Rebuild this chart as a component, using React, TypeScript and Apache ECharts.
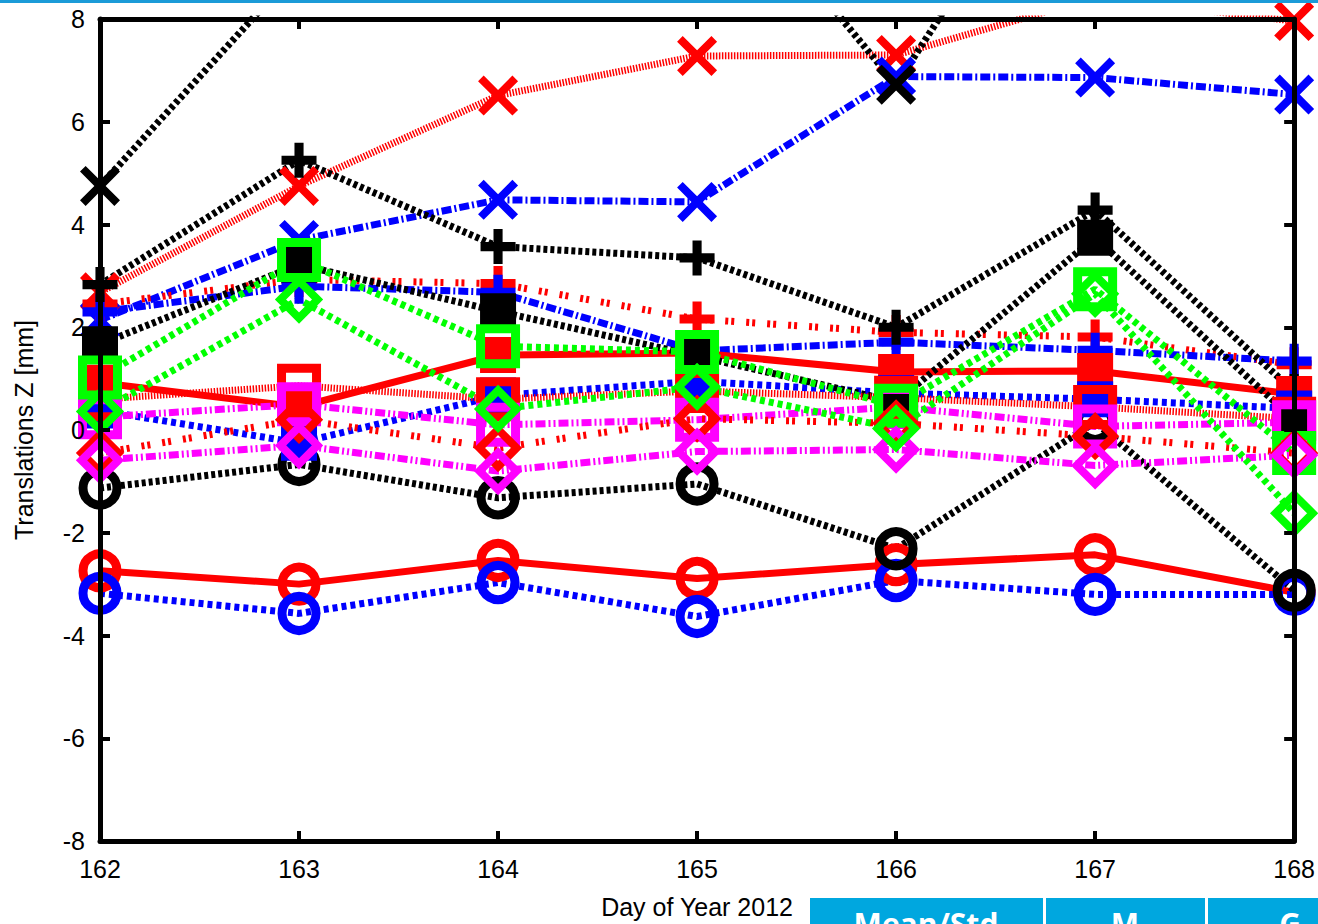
import React, { useEffect, useRef } from "react";
import * as echarts from "echarts";

const days = [162, 163, 164, 165, 166, 167, 168];
const xTicks = ["162", "163", "164", "165", "166", "167", "168"];
const yTicks = [-8, -6, -4, -2, 0, 2, 4, 6, 8];

// circles
const redCircle = [-2.74, -3.0, -2.54, -2.89, -2.62, -2.43, -3.16];
const blueCircle = [-3.18, -3.57, -2.97, -3.63, -2.93, -3.2, -3.2];
const blackCircle = [-1.13, -0.67, -1.32, -1.05, -2.31, 0.15, -3.12];
// crosses (x)
const redX = [2.68, 4.75, 6.51, 7.28, 7.3, 8.42, 7.96];
const blueX = [2.14, 3.7, 4.48, 4.44, 6.88, 6.86, 6.53];
const blackX = [4.75, 9.0, 10.5, 11.4, 6.72, 12.7, 10.5];
// plus (+)
const redPlus = [2.45, 2.93, 2.85, 2.16, 1.9, 1.81, 1.27];
const bluePlus = [2.3, 2.8, 2.68, 1.54, 1.71, 1.55, 1.34];
const blackPlus = [2.83, 5.25, 3.57, 3.35, 2.0, 4.28, 0.75];
// filled squares
const redFilled = [0.92, 0.45, 1.46, 1.5, 1.13, 1.15, 0.7];
const blueFilled = [0.38, -0.25, 0.67, 0.95, 0.72, 0.6, 0.42];
const blackFilled = [1.67, 3.22, 2.31, 1.44, 0.55, 3.74, 0.2];
// open squares
const redSquare = [0.6, 0.86, 0.6, 0.76, 0.63, 0.45, 0.22];
const magentaSquare = [0.25, 0.5, 0.1, 0.2, 0.45, 0.07, 0.15];
const greenSquare = [1.02, 3.31, 1.63, 1.52, 0.47, 2.74, -0.45];
// open diamonds
const redDiamond = [-0.45, 0.2, -0.35, 0.22, 0.13, -0.12, -0.45];
const magentaDiamond = [-0.59, -0.3, -0.8, -0.42, -0.38, -0.69, -0.49];
const greenDiamond = [0.36, 2.54, 0.41, 0.84, 0.03, 2.65, -1.62];

const headerCells = ["Mean/Std", "M", "G"];

const RED = "#ff0000";
const BLUE = "#0000ff";
const BLACK = "#000000";
const GREEN = "#00ff00";
const MAGENTA = "#ff00ff";

const PLUS = "path://M37,0 H63 V37 H100 V63 H63 V100 H37 V63 H0 V37 H37 Z";
const CROSS =
  "path://M0,14.1 L14.1,0 L50,35.9 L85.9,0 L100,14.1 L64.1,50 L100,85.9 L85.9,100 L50,64.1 L14.1,100 L0,85.9 L35.9,50 Z";

const SOLID: number[] | string = "solid";
const DOTTED = [4, 3];
const FINE = [1.5, 1.5];
const DASHED = [3, 3, 3, 12];
const DASHDOT = [10, 3, 2, 3];
const SQDOT = [5, 4];
const GREENDOT = [5, 4];
const MAGDASH = [10, 3, 2, 3, 2, 3];

type Kind = "circle" | "x" | "plus" | "filled" | "square" | "diamond";

function mk(name: string, vals: number[], color: string, kind: Kind, dash: any) {
  let symbol = "circle";
  let symbolSize = 34;
  let itemStyle: any = { color: "rgba(0,0,0,0)", borderColor: color, borderWidth: 9 };
  if (kind === "x") {
    symbol = CROSS;
    symbolSize = 40;
    itemStyle = { color, borderWidth: 0 };
  } else if (kind === "plus") {
    symbol = PLUS;
    symbolSize = 35;
    itemStyle = { color, borderWidth: 0 };
  } else if (kind === "filled") {
    symbol = "rect";
    symbolSize = 36;
    itemStyle = { color, borderWidth: 0 };
  } else if (kind === "square") {
    symbol = "rect";
    symbolSize = 35;
    itemStyle = { color: "rgba(0,0,0,0)", borderColor: color, borderWidth: 9 };
  } else if (kind === "diamond") {
    symbol = "diamond";
    symbolSize = 37;
    itemStyle = { color: "rgba(0,0,0,0)", borderColor: color, borderWidth: 8 };
  }
  return {
    name,
    type: "line",
    data: days.map((d, i) => [d, vals[i]]),
    symbol,
    symbolSize,
    showAllSymbol: true,
    clip: true,
    silent: true,
    itemStyle,
    lineStyle: { color, width: 7, type: dash, cap: "butt" },
    emphasis: { disabled: true },
  };
}

export default function App() {
  const ref = useRef<HTMLDivElement>(null);
  useEffect(() => {
    if (!ref.current) return;
    const chart = echarts.init(ref.current, undefined, { renderer: "svg", width: 1318, height: 924 });
    const font = "Liberation Sans, Arial, Helvetica, sans-serif";
    const axisLine = { show: true, onZero: false, lineStyle: { color: "#000", width: 5 } };
    const axisTick = { show: true, inside: true, length: 10, lineStyle: { color: "#000", width: 4 } };
    chart.setOption({
      animation: false,
      backgroundColor: "#ffffff",
      grid: { left: 100, top: 19, width: 1201, height: 824, containLabel: false },
      xAxis: [
        {
          type: "value", min: 162, max: 168, interval: 1, position: "bottom", z: 10,
          axisLine, axisTick, splitLine: { show: false },
          axisLabel: {
            color: "#000", fontSize: 25, fontFamily: font, margin: 15,
            formatter: (v: number) => xTicks[days.indexOf(v)] ?? String(v),
          },
          name: "Day of Year 2012", nameLocation: "middle", nameGap: 53,
          nameTextStyle: { color: "#000", fontSize: 25, fontFamily: font },
        },
        {
          type: "value", min: 162, max: 168, interval: 1, position: "top", z: 10,
          axisLine, axisTick, splitLine: { show: false }, axisLabel: { show: false },
        },
      ],
      yAxis: [
        {
          type: "value", min: yTicks[0], max: yTicks[yTicks.length - 1], interval: 2, position: "left", z: 10,
          axisLine, axisTick, splitLine: { show: false },
          axisLabel: { color: "#000", fontSize: 25, fontFamily: font, margin: 15 },
          name: "Translations Z [mm]", nameLocation: "middle", nameGap: 64, nameRotate: 90,
          nameTextStyle: { color: "#000", fontSize: 25, fontFamily: font },
        },
        {
          type: "value", min: yTicks[0], max: yTicks[yTicks.length - 1], interval: 2, position: "right", z: 10,
          axisLine, axisTick, splitLine: { show: false }, axisLabel: { show: false },
        },
      ],
      series: [
        mk("red circle", redCircle, RED, "circle", SOLID),
        mk("blue circle", blueCircle, BLUE, "circle", SQDOT),
        mk("black circle", blackCircle, BLACK, "circle", DOTTED),
        mk("red x", redX, RED, "x", FINE),
        mk("blue x", blueX, BLUE, "x", DASHDOT),
        mk("black x", blackX, BLACK, "x", DOTTED),
        mk("red +", redPlus, RED, "plus", DASHED),
        mk("blue +", bluePlus, BLUE, "plus", DASHDOT),
        mk("black +", blackPlus, BLACK, "plus", DOTTED),
        mk("red filled", redFilled, RED, "filled", SOLID),
        mk("blue filled", blueFilled, BLUE, "filled", SQDOT),
        mk("black filled", blackFilled, BLACK, "filled", DOTTED),
        mk("red square", redSquare, RED, "square", FINE),
        mk("magenta square", magentaSquare, MAGENTA, "square", MAGDASH),
        mk("green square", greenSquare, GREEN, "square", GREENDOT),
        mk("red diamond", redDiamond, RED, "diamond", DASHED),
        mk("magenta diamond", magentaDiamond, MAGENTA, "diamond", MAGDASH),
        mk("green diamond", greenDiamond, GREEN, "diamond", GREENDOT),
      ],
      graphic: [
        { type: "rect", left: 0, top: 0, shape: { width: 1318, height: 3 }, style: { fill: "#1b9bd8" }, z: 20 },
        { type: "rect", left: 810, top: 898, shape: { width: 233, height: 40 }, style: { fill: "#00a7df" }, z: 20 },
        { type: "rect", left: 1046, top: 898, shape: { width: 159, height: 40 }, style: { fill: "#00a7df" }, z: 20 },
        { type: "rect", left: 1208, top: 898, shape: { width: 120, height: 40 }, style: { fill: "#00a7df" }, z: 20 },
        {
          type: "text", x: 926, y: 923, z: 21,
          style: { text: headerCells[0], fill: "#fff", font: "bold 30px 'Open Sans', 'DejaVu Sans', sans-serif", align: "center", verticalAlign: "middle" },
        },
        {
          type: "text", x: 1125, y: 923, z: 21,
          style: { text: headerCells[1], fill: "#fff", font: "bold 30px 'Open Sans', 'DejaVu Sans', sans-serif", align: "center", verticalAlign: "middle" },
        },
        {
          type: "text", x: 1290, y: 923, z: 21,
          style: { text: headerCells[2], fill: "#fff", font: "bold 30px 'Open Sans', 'DejaVu Sans', sans-serif", align: "center", verticalAlign: "middle" },
        },
      ],
    });
    return () => chart.dispose();
  }, []);
  return (
    <div style={{ position: "fixed", left: 0, top: 0, width: 1318, height: 924, overflow: "hidden", background: "#fff" }}>
      <div ref={ref} style={{ width: 1318, height: 924 }} />
    </div>
  );
}
